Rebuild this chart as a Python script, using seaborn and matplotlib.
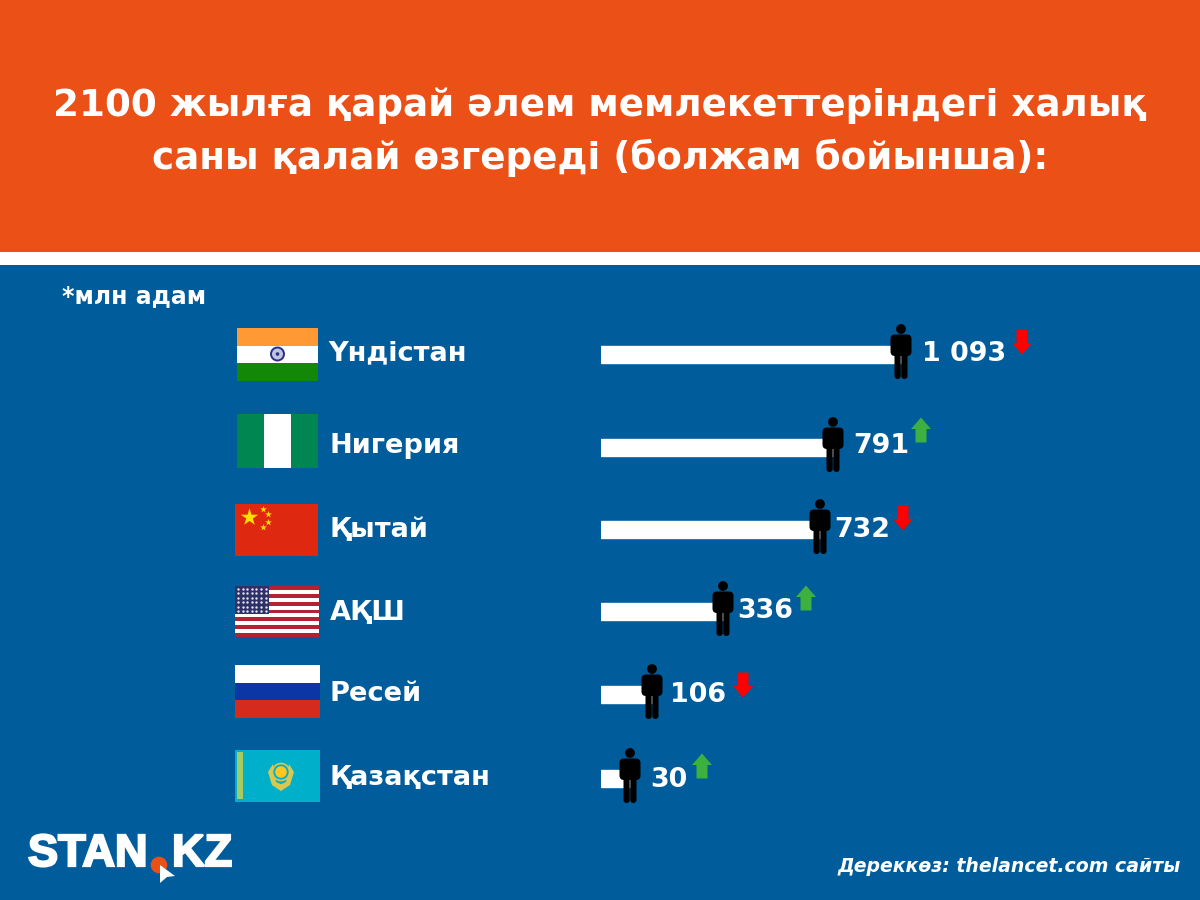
import numpy as np
import pandas as pd
import seaborn as sns
import matplotlib.pyplot as plt
from matplotlib.patches import Rectangle, Circle, Polygon, FancyBboxPatch
import matplotlib.patheffects as pe

countries = ['Үндістан', 'Нигерия', 'Қытай', 'АҚШ', 'Ресей', 'Қазақстан']
value_labels = ['1 093', '791', '732', '336', '106', '30']
# the bars in the picture are not to scale with the labels, so lengths are read off separately
bar_lengths = [300, 232, 219, 122, 51, 29]
trend = ['down', 'up', 'down', 'up', 'down', 'up']

title_text = '2100 жылға қарай әлем мемлекеттеріндегі халық\nсаны қалай өзгереді (болжам бойынша):'
unit_note = '*млн адам'
source_note = 'Дереккөз: thelancet.com сайты'

# layout, in pixels of the 1200x900 picture
row_y = [354, 447, 529, 611, 694, 778]
name_x = [328, 329, 329, 330, 330, 330]
name_base = [360, 453, 537, 620, 701, 785]
label_gap = [21, 20, 14, 14, 18, 20]
label_base = [361, 453, 537, 618, 702, 787]
arrow_xy = [(1022, 342), (921, 430), (903, 518), (806, 598), (743, 685), (702, 766)]

ORANGE = '#EB5017'
BLUE = '#005C9B'
RED = '#FF0000'
GREEN = '#3DB03F'

sns.set_style('white')
plt.rcParams['font.family'] = ['DejaVu Sans']

fig = plt.figure(figsize=(12, 9), dpi=100)
fig.patch.set_facecolor(BLUE)

# pixel canvas for everything that is not a bar
bg = fig.add_axes([0, 0, 1, 1], zorder=0)
bg.set_xlim(0, 1200)
bg.set_ylim(900, 0)
bg.axis('off')
top = fig.add_axes([0, 0, 1, 1], zorder=2)
top.set_xlim(0, 1200)
top.set_ylim(900, 0)
top.axis('off')
top.patch.set_alpha(0)


def rect(ax, x0, y0, x1, y1, color, **kw):
    ax.add_patch(Rectangle((x0, y0), x1 - x0, y1 - y0, facecolor=color, edgecolor='none', **kw))


rect(bg, 0, 0, 1200, 252, ORANGE)
rect(bg, 0, 252, 1200, 265, 'white')
rect(bg, 0, 265, 1200, 900, BLUE)

bg.text(600, 132, title_text, color='white', fontsize=26.8, fontweight='bold', ha='center', va='center',
        linespacing=1.47)
bg.text(62, 296, unit_note, color='white', fontsize=17, fontweight='bold', ha='left', va='center')
bg.text(1181, 867, source_note, color='white', fontsize=13.6, fontweight='bold', style='italic',
        ha='right', va='center')

# bars
ax = fig.add_axes([601 / 1200, 0, 599 / 1200, 1], zorder=1)
ax.patch.set_alpha(0)
df = pd.DataFrame({'length': bar_lengths, 'row': row_y})
sns.barplot(data=df, x='length', y='row', orient='h', native_scale=True, color='white', saturation=1,
            width=17 / 82, ax=ax)
ax.set_xlim(0, 599)
ax.set_ylim(900, 0)
ax.axis('off')


def person(cx, cy):
    c = 'black'
    top.add_patch(Circle((cx, cy - 25), 4.9, color=c, lw=0))
    top.add_patch(FancyBboxPatch((cx - 10.5, cy - 19.5), 21, 21.5, boxstyle='round,pad=0,rounding_size=4.5', fc=c, ec='none'))
    top.add_patch(FancyBboxPatch((cx - 6.5, cy - 10), 6.2, 35, boxstyle='round,pad=0,rounding_size=3', fc=c, ec='none'))
    top.add_patch(FancyBboxPatch((cx + 0.3, cy - 10), 6.2, 35, boxstyle='round,pad=0,rounding_size=3', fc=c, ec='none'))


def arrow(cx, cy, direction):
    s = 1 if direction == 'up' else -1
    pts = [(cx, cy - 12.5 * s), (cx + 10, cy - 1 * s), (cx + 5.5, cy - 1 * s), (cx + 5.5, cy + 12.5 * s),
           (cx - 5.5, cy + 12.5 * s), (cx - 5.5, cy - 1 * s), (cx - 10, cy - 1 * s)]
    top.add_patch(Polygon(pts, closed=True, fc=GREEN if direction == 'up' else RED, ec='none'))


for i, name in enumerate(countries):
    bg.text(name_x[i], name_base[i], name, color='white', fontsize=19.6, fontweight='bold', ha='left', va='baseline')
    end_x = ax.transData.transform((bar_lengths[i], 0))[0] / fig.dpi * 100
    person(end_x, row_y[i])
    top.text(end_x + label_gap[i], label_base[i], value_labels[i], color='white', fontsize=19.4, fontweight='bold',
             ha='left', va='baseline')
    arrow(arrow_xy[i][0], arrow_xy[i][1], trend[i])

# flags
# India
rect(bg, 237, 328, 318, 346, '#FF9933')
rect(bg, 237, 346, 318, 363, 'white')
rect(bg, 237, 363, 318, 381, '#138808')
bg.add_patch(Circle((277.5, 354), 6.5, fc='#BFC4E0', ec='#2B2F86', lw=1.4))
bg.add_patch(Circle((277.5, 354), 1.8, fc='#2B2F86', ec='none'))
# Nigeria
rect(bg, 237, 414, 318, 468, '#008751')
rect(bg, 264, 414, 291, 468, 'white')
# China
rect(bg, 235, 504, 318, 556, '#DE2910')
bg.scatter([249], [517], marker='*', s=170, color='#FFDE00', linewidths=0)
bg.scatter([263, 268, 268, 263], [509, 514, 522, 527], marker='*', s=26, color='#FFDE00', linewidths=0)
# USA
stripe_h = 51 / 13
for k in range(13):
    rect(bg, 235, 586 + k * stripe_h, 319, 586 + (k + 1) * stripe_h, '#B22234' if k % 2 == 0 else 'white')
rect(bg, 235, 586, 269, 613.5, '#2E3166')
sx, sy = np.meshgrid(np.arange(238, 268, 4.6), np.arange(589, 612, 4.4))
bg.scatter(sx.ravel(), sy.ravel(), s=3, color='#E6E6F0', linewidths=0)
# Russia
rect(bg, 235, 665, 320, 683, 'white')
rect(bg, 235, 683, 320, 700, '#0A36A6')
rect(bg, 235, 700, 320, 718, '#D52B1E')
# Kazakhstan
rect(bg, 235, 750, 320, 802, '#00AFCA')
rect(bg, 237, 752, 243, 799, '#A5CB62')
bg.add_patch(Polygon([(268, 772), (273, 764), (276, 782), (285, 786), (281, 791), (272, 785)], closed=True,
                     fc='#D8C850', ec='none'))
bg.add_patch(Polygon([(294, 772), (289, 764), (286, 782), (277, 786), (281, 791), (290, 785)], closed=True,
                     fc='#D8C850', ec='none'))
bg.add_patch(Circle((281, 772), 8.5, fc='#00AFCA', ec='#D8C850', lw=1.2))
bg.add_patch(Circle((281, 772), 5.8, fc='#FFC61E', ec='none'))

# logo
logo_fx = [pe.withStroke(linewidth=1.6, foreground='white', joinstyle='miter')]
bg.text(28, 866, 'STAN', color='white', fontsize=32.5, fontweight='bold', family='Liberation Sans',
        ha='left', va='baseline', path_effects=logo_fx)
bg.text(172, 866, 'KZ', color='white', fontsize=32.5, fontweight='bold', family='Liberation Sans',
        ha='left', va='baseline', path_effects=logo_fx)
bg.add_patch(Circle((159, 865), 8.3, fc=ORANGE, ec='none'))
bg.add_patch(Polygon([(160, 865), (175, 876), (167, 877), (160, 883)], closed=True, fc='white', ec='none'))

fig.savefig('out.png', dpi=100, facecolor=fig.get_facecolor())
